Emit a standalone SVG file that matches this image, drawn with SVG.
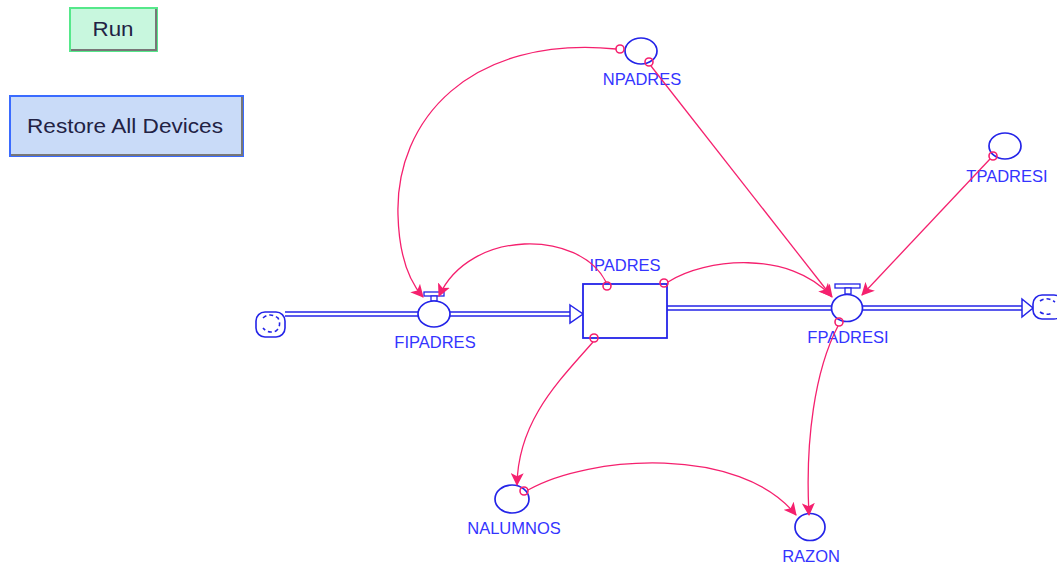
<svg xmlns="http://www.w3.org/2000/svg" width="1057" height="568" viewBox="0 0 1057 568">
<defs>
<marker id="ah" viewBox="0 0 12 12" refX="11" refY="6" markerWidth="13" markerHeight="13" markerUnits="userSpaceOnUse" orient="auto">
<path d="M0,0 L12,6 L0,12 L3,6 Z" fill="#f5206e"/>
</marker>
<style>
.lbl{font-family:"Liberation Sans",Arial,sans-serif;font-size:16.5px;fill:#3434ff;text-anchor:middle}
.btn{font-family:"Liberation Sans",Arial,sans-serif;fill:#222244;text-anchor:middle}
.aux{fill:#fff;stroke:#2424e8;stroke-width:1.7}
.pipe{stroke:#2424e8;stroke-width:1.5;fill:none}
.con{stroke:#f5206e;stroke-width:1.3;fill:none;marker-end:url(#ah)}
.org{stroke:#f5206e;stroke-width:1.6;fill:none}
.cloud{fill:#fff;stroke:#2424e8;stroke-width:1.6}
.swirl{fill:none;stroke:#2424e8;stroke-width:1.6;stroke-dasharray:4 3}
.vb{fill:#fff;stroke:#2424e8;stroke-width:1.3}
</style>
</defs>
<rect width="1057" height="568" fill="#fff"/>

<g id="btn-run">
<rect x="70" y="8" width="87" height="43" fill="#c8f7de" stroke="#55e88a" stroke-width="2"/>
<path d="M71,50 H156 V9" fill="none" stroke="#777" stroke-width="2"/>
<text class="btn" x="113" y="36" font-size="20" textLength="41" lengthAdjust="spacingAndGlyphs">Run</text>
</g>
<g id="btn-restore">
<rect x="10" y="96" width="233" height="60" fill="#c9dbf8" stroke="#3a6bff" stroke-width="2"/>
<path d="M11,155 H242 V97" fill="none" stroke="#777" stroke-width="2"/>
<text class="btn" x="125" y="133" font-size="20" textLength="196" lengthAdjust="spacingAndGlyphs">Restore All Devices</text>
</g>

<g id="pipes">
<path class="pipe" d="M285,312 H570 M285,316 H570"/>
<path class="pipe" d="M570,305 L583,314 L570,323 Z" fill="#fff"/>
<path class="pipe" d="M667,306 H1022 M667,310 H1022"/>
<path class="pipe" d="M1022,299 L1033,308 L1022,317 Z" fill="#fff"/>
</g>

<g id="cloud-left">
<rect class="cloud" x="256" y="312" width="29" height="25" rx="9"/>
<path class="swirl" d="M263,318 Q270,312 278,318 Q282,326 276,331 Q268,334 263,328"/>
</g>
<g id="cloud-right">
<rect class="cloud" x="1033" y="295" width="30" height="24" rx="9"/>
<path class="swirl" d="M1040,301 Q1047,296 1055,302 M1040,312 Q1046,316 1052,313"/>
</g>

<g id="IPADRES">
<rect x="583" y="284" width="84" height="54" fill="#fff" stroke="#2424e8" stroke-width="1.8"/>
<text class="lbl" x="625" y="271">IPADRES</text>
</g>

<g id="FIPADRES">
<rect class="vb" x="424" y="292" width="20" height="4"/>
<rect class="vb" x="431" y="296" width="6" height="5"/>
<ellipse class="aux" cx="434" cy="314" rx="16" ry="13"/>
<text class="lbl" x="435" y="348">FIPADRES</text>
</g>

<g id="FPADRESI">
<rect class="vb" x="835" y="284" width="25" height="4"/>
<rect class="vb" x="845" y="288" width="6" height="6"/>
<ellipse class="aux" cx="847" cy="308" rx="15.5" ry="13.5"/>
<text class="lbl" x="848" y="343">FPADRESI</text>
</g>

<g id="NPADRES">
<ellipse class="aux" cx="641" cy="51" rx="16" ry="13"/>
<text class="lbl" x="642" y="85">NPADRES</text>
</g>

<g id="TPADRESI">
<ellipse class="aux" cx="1005" cy="146" rx="16" ry="13"/>
<text class="lbl" x="1007" y="182">TPADRESI</text>
</g>

<g id="NALUMNOS">
<ellipse class="aux" cx="512" cy="499" rx="17" ry="14"/>
<text class="lbl" x="514" y="534">NALUMNOS</text>
</g>

<g id="RAZON">
<ellipse class="aux" cx="810" cy="527" rx="15" ry="13.5"/>
<text class="lbl" x="811" y="562">RAZON</text>
</g>

<g id="connectors">
<path class="con" d="M616,49 C470,35 395,120 398,215 C399,255 408,280 423,297"/>
<path class="con" d="M606,282 C580,230 470,228 439,296"/>
<path class="con" d="M668,282 C705,258 790,250 831,296"/>
<path class="con" d="M651,66 L832,297"/>
<path class="con" d="M990,159 L862,295"/>
<path class="con" d="M593,342 C560,380 518,420 517,485"/>
<path class="con" d="M838,326 C815,370 805,440 809,515"/>
<path class="con" d="M528,490 C590,455 740,445 796,515"/>
<circle class="org" cx="620" cy="49" r="4"/>
<circle class="org" cx="649" cy="62" r="4"/>
<circle class="org" cx="607" cy="286" r="4"/>
<circle class="org" cx="664" cy="283" r="4"/>
<circle class="org" cx="594" cy="338" r="4"/>
<circle class="org" cx="993" cy="156" r="4"/>
<circle class="org" cx="524" cy="491" r="4"/>
<circle class="org" cx="839" cy="322" r="4"/>
</g>
</svg>
